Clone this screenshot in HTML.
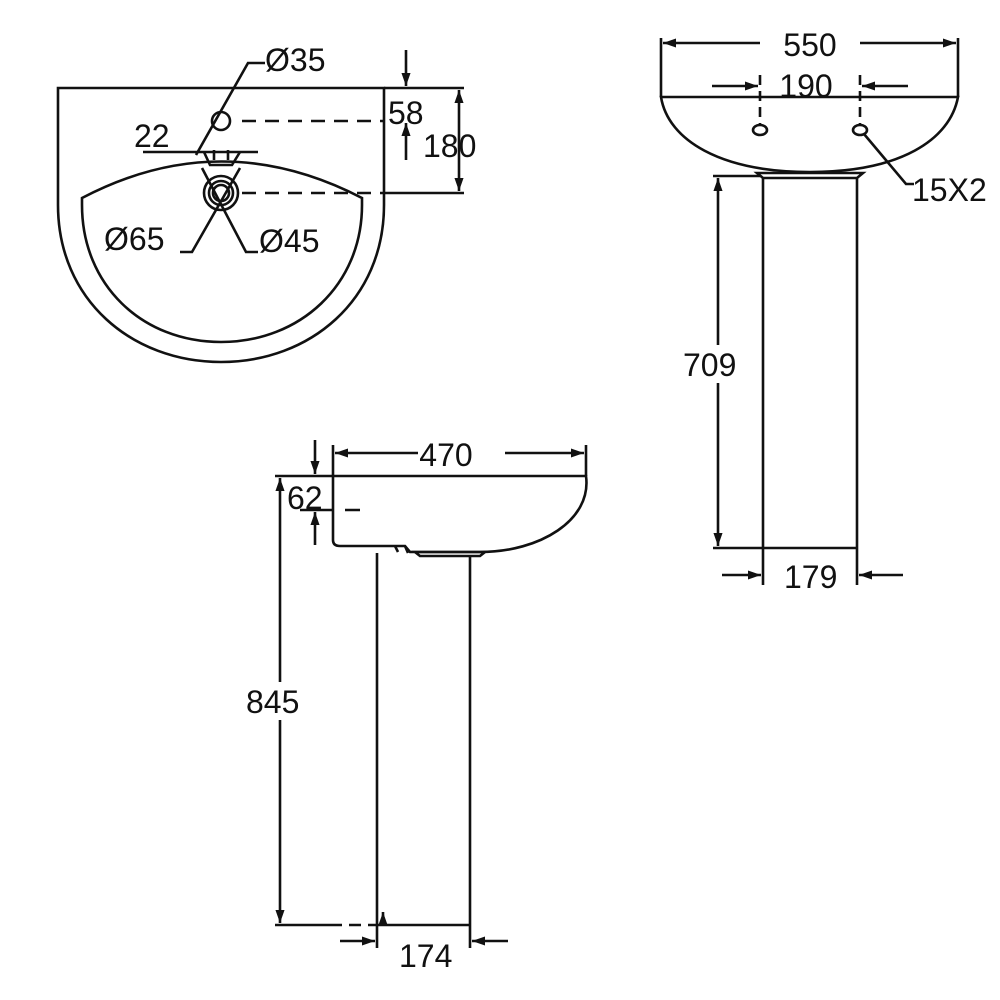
<!DOCTYPE html>
<html><head><meta charset="utf-8"><style>
html,body{margin:0;padding:0;background:#fff;}
svg{display:block}
text{font-family:"Liberation Sans",sans-serif;font-size:32px;fill:#111}
</style></head><body>
<svg width="1000" height="1000" viewBox="0 0 1000 1000" xmlns="http://www.w3.org/2000/svg">
<defs>
<marker id="a" viewBox="0 0 10 10" refX="10" refY="5" markerWidth="5" markerHeight="5" orient="auto-start-reverse"><path d="M0,1.5 L10,5 L0,8.5 Z" fill="#111"/></marker>
</defs>
<g stroke="#111" stroke-width="2.6" fill="none">
<!-- top-left basin -->
<path d="M58,88 L384,88 L384,205 C384,300 310,362 221,362 C132,362 58,300 58,205 Z"/>
<path d="M82,198 Q221,125 362,198 L362,205 C362,285 300,342 221,342 C142,342 82,285 82,205 Z"/>
<circle cx="221" cy="121" r="9"/>
<circle cx="221" cy="193" r="17"/>
<circle cx="221" cy="193" r="12"/>
<circle cx="221" cy="193" r="8"/>
<path d="M204,152 L210,165 L232,165 L240,152"/>
<path d="M214,150 L214,160 M228,150 L228,160"/>
<path d="M143,152 L258,152"/>
<path d="M196,155 L248,63 L265,63"/>
<path d="M180,252 L192,252 L240,168"/>
<path d="M258,252 L246,252 L202,168"/>
<path d="M242,121 L384,121 M242,193 L384,193" stroke-dasharray="14,9"/>
<path d="M384,88 L464,88 M384,193 L464,193"/>
<path d="M459,90 L459,191" marker-start="url(#a)" marker-end="url(#a)"/>
<path d="M406,50 L406,86" marker-end="url(#a)"/>
<path d="M406,160 L406,123" marker-end="url(#a)"/>
<!-- top-right front view -->
<path d="M661,97 L958,97 C950,140 900,172 810,172 C720,172 668,140 661,97 Z"/>
<path d="M757,173 L863,173 L857,178 L763,178 Z"/>
<path d="M763,178 L763,548 M857,178 L857,548"/>
<path d="M661,38 L661,97 M958,38 L958,97"/>
<path d="M860,43 L956,43" marker-end="url(#a)"/>
<path d="M760,43 L663,43" marker-end="url(#a)"/>
<path d="M760,75 L760,125 M860,75 L860,125" stroke-dasharray="10,6"/>
<path d="M712,86 L758,86" marker-end="url(#a)"/>
<path d="M908,86 L862,86" marker-end="url(#a)"/>
<ellipse cx="760" cy="130" rx="7" ry="5"/>
<ellipse cx="860" cy="130" rx="7" ry="5"/>
<path d="M864,134 L906,184 L914,184"/>
<path d="M713,176 L760,176 M713,548 L857,548"/>
<path d="M718,178 L718,546" marker-start="url(#a)" marker-end="url(#a)"/>
<path d="M763,548 L763,585 M857,548 L857,585"/>
<path d="M722,575 L761,575" marker-end="url(#a)"/>
<path d="M903,575 L859,575" marker-end="url(#a)"/>
<!-- bottom side view -->
<path d="M333,476 L586,476 C592,520 540,552 480,552 L410,552 L405,546 L340,546 Q333,546 333,540 Z"/>
<path d="M395,546 L398,552 M405,546 L408,553"/>
<path d="M415,552 L485,552 L480,556 L420,556 Z"/>
<path d="M377,553 L377,925 M470,556 L470,925"/>
<path d="M333,445 L333,476 M586,445 L586,476"/>
<path d="M335,453 L418,453" marker-start="url(#a)"/>
<path d="M505,453 L584,453" marker-end="url(#a)"/>
<path d="M275,476 L333,476 M300,510 L333,510 M345,510 L360,510"/>
<path d="M315,440 L315,474" marker-end="url(#a)"/>
<path d="M315,545 L315,512" marker-end="url(#a)"/>
<path d="M280,478 L280,923" marker-start="url(#a)" marker-end="url(#a)"/>
<path d="M275,925 L330,925 M377,925 L470,925"/>
<path d="M330,925 L377,925" stroke-dasharray="12,7"/>
<path d="M377,925 L377,948 M470,925 L470,948"/>
<path d="M340,941 L375,941" marker-end="url(#a)"/>
<path d="M508,941 L472,941" marker-end="url(#a)"/>
<path d="M383,925 L383,912" marker-end="url(#a)"/>
</g>
<rect x="680" y="345" width="64" height="38" fill="#fff"/>
<rect x="244" y="682" width="64" height="38" fill="#fff"/>
<text x="265" y="71">Ø35</text>
<text x="134" y="147">22</text>
<text x="388" y="124">58</text>
<text x="423" y="157">180</text>
<text x="104" y="250">Ø65</text>
<text x="259" y="252">Ø45</text>
<text x="810" y="56" text-anchor="middle">550</text>
<text x="806" y="97" text-anchor="middle">190</text>
<text x="912" y="201">15X2</text>
<text x="683" y="376">709</text>
<text x="784" y="588">179</text>
<text x="446" y="466" text-anchor="middle">470</text>
<text x="287" y="509">62</text>
<text x="246" y="713">845</text>
<text x="399" y="967">174</text>
</svg>
</body></html>
